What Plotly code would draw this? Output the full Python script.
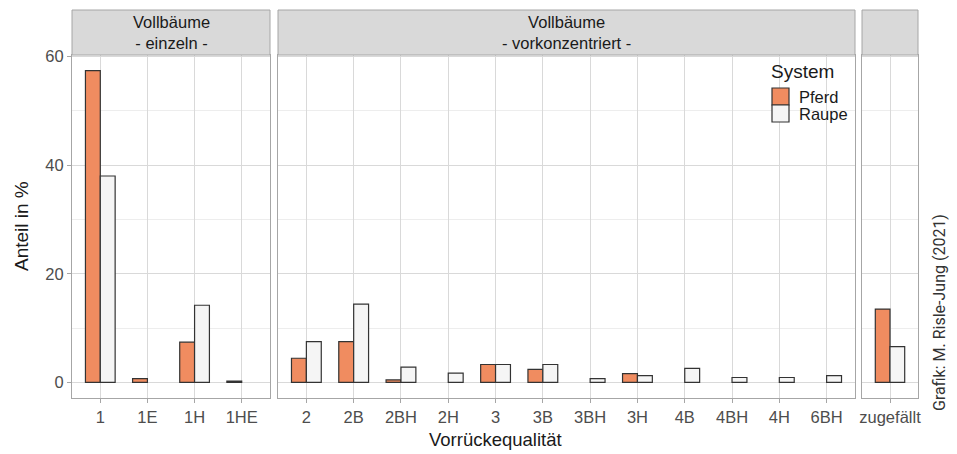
import plotly.graph_objects as go

# ---- data ----
cats_einzeln = ["1", "1E", "1H", "1HE"]
pferd_einzeln = [57.4, 0.7, 7.4, 0.25]
raupe_einzeln = [38.0, None, 14.2, None]

cats_vork = ["2", "2B", "2BH", "2H", "3", "3B", "3BH", "3H", "4B", "4BH", "4H", "6BH"]
pferd_vork = [4.45, 7.5, 0.45, None, 3.3, 2.4, None, 1.6, None, None, None, None]
raupe_vork = [7.5, 14.4, 2.8, 1.7, 3.3, 3.3, 0.7, 1.25, 2.6, 0.9, 0.9, 1.25]

cats_zuf = ["zugefällt"]
pferd_zuf = [13.5]
raupe_zuf = [6.6]

strip_labels = ["Vollbäume<br>- einzeln -", "Vollbäume<br>- vorkonzentriert -", ""]
series_names = ["Pferd", "Raupe"]
series_colors = ["#F08C60", "#F5F5F5"]
y_ticks = [0, 20, 40, 60]

# ---- layout geometry ----
W, H = 957, 454
ML, MR, MT, MB = 72, 39, 55, 56
PW = W - ML - MR
PH = H - MT - MB

def px_x(p):
    return (p - ML) / PW

def px_y(p):
    return (H - MB - p) / PH

domains = [
    [px_x(72), px_x(270)],
    [px_x(278), px_x(855)],
    [px_x(862), px_x(918)],
]

FONT = "Liberation Sans, Arial, sans-serif"
GRID = "#D9D9D9"
MINOR = "#EDEDED"
BORDER = "#A6A6A6"
OUTLINE = "#333333"
SMALL = 16.5
BIG = 19

fig = go.Figure()

panels = [
    (cats_einzeln, pferd_einzeln, raupe_einzeln),
    (cats_vork, pferd_vork, raupe_vork),
    (cats_zuf, pferd_zuf, raupe_zuf),
]

for i, (cats, pf, ra) in enumerate(panels):
    xa = "x" if i == 0 else f"x{i+1}"
    ya = "y" if i == 0 else f"y{i+1}"
    for s, vals in enumerate([pf, ra]):
        fig.add_trace(go.Bar(
            x=cats, y=vals, name=series_names[s],
            marker=dict(color=series_colors[s], line=dict(color=OUTLINE, width=1.2)),
            offsetgroup=str(s), xaxis=xa, yaxis=ya, showlegend=False,
            hovertemplate="%{x}: %{y}<extra>" + series_names[s] + "</extra>",
        ))

layout = dict(
    width=W, height=H,
    margin=dict(l=ML, r=MR, t=MT, b=MB),
    paper_bgcolor="white", plot_bgcolor="white",
    barmode="group", bargap=0.37, bargroupgap=0,
    font=dict(family=FONT, color="#4D4D4D", size=SMALL),
    showlegend=False,
)

for i, (cats, _, _) in enumerate(panels):
    n = len(cats)
    xk = "xaxis" if i == 0 else f"xaxis{i+1}"
    yk = "yaxis" if i == 0 else f"yaxis{i+1}"
    yref = "y" if i == 0 else f"y{i+1}"
    xref = "x" if i == 0 else f"x{i+1}"
    layout[xk] = dict(
        domain=domains[i], anchor=yref, type="category",
        categoryorder="array", categoryarray=cats,
        range=[-0.6, n - 0.4],
        showgrid=True, gridcolor=GRID, gridwidth=1,
        showline=True, mirror=True, linecolor=BORDER, linewidth=1,
        ticks="outside", ticklen=4, tickcolor=BORDER,
        tickfont=dict(size=SMALL, color="#4D4D4D", family=FONT),
        zeroline=False, fixedrange=True,
    )
    layout[yk] = dict(
        domain=[0, 1], anchor=xref,
        range=[-2.87, 60.27],
        tickvals=y_ticks,
        showticklabels=(i == 0),
        ticks="outside" if i == 0 else "", ticklen=4, tickcolor=BORDER,
        showgrid=True, gridcolor=GRID, gridwidth=1,
        minor=dict(dtick=10, tick0=0, showgrid=True, gridcolor=MINOR, gridwidth=1, ticks=""),
        showline=True, mirror=True, linecolor=BORDER, linewidth=1,
        zeroline=False, tickfont=dict(size=SMALL, color="#4D4D4D", family=FONT),
        fixedrange=True,
    )
    if i > 0:
        layout[yk]["matches"] = "y"

fig.update_layout(**layout)

shapes = []
annotations = []
strip_top = px_y(10)
for i, d in enumerate(domains):
    shapes.append(dict(type="rect", xref="paper", yref="paper",
                       x0=d[0], x1=d[1], y0=1, y1=strip_top,
                       fillcolor="#D9D9D9", line=dict(color=BORDER, width=1), layer="above"))
    if strip_labels[i]:
        annotations.append(dict(xref="paper", yref="paper",
                                x=(d[0] + d[1]) / 2, y=(1 + strip_top) / 2,
                                text=strip_labels[i], showarrow=False,
                                xanchor="center", yanchor="middle",
                                font=dict(size=SMALL, color="#1A1A1A", family=FONT)))

# legend (custom, ggplot style)
annotations.append(dict(xref="paper", yref="paper", x=px_x(769), y=px_y(71),
                        text="System", showarrow=False, xanchor="left", yanchor="middle",
                        font=dict(size=BIG, color="#1A1A1A", family=FONT)))
key_rows = [(88, 105), (105, 122)]
for s, (t, b) in enumerate(key_rows):
    shapes.append(dict(type="rect", xref="paper", yref="paper",
                       x0=px_x(772), x1=px_x(789), y0=px_y(b), y1=px_y(t),
                       fillcolor=series_colors[s], line=dict(color=OUTLINE, width=1.2), layer="above"))
    annotations.append(dict(xref="paper", yref="paper", x=px_x(797), y=px_y((t + b) / 2),
                            text=series_names[s], showarrow=False, xanchor="left", yanchor="middle",
                            font=dict(size=SMALL, color="#1A1A1A", family=FONT)))

# axis titles
annotations.append(dict(xref="paper", yref="paper", x=0.5, y=px_y(440),
                        text="Vorrückequalität", showarrow=False,
                        xanchor="center", yanchor="middle",
                        font=dict(size=18.5, color="#1A1A1A", family=FONT)))
annotations.append(dict(xref="paper", yref="paper", x=px_x(22), y=px_y(226),
                        text="Anteil in %", showarrow=False, textangle=-90,
                        xanchor="center", yanchor="middle",
                        font=dict(size=BIG, color="#1A1A1A", family=FONT)))
# caption
annotations.append(dict(xref="paper", yref="paper", x=px_x(939), y=px_y(313),
                        text="Grafik: M. Risle-Jung (2021)", showarrow=False, textangle=-90,
                        xanchor="center", yanchor="middle",
                        font=dict(size=16, color="#333333", family="Roboto, sans-serif")))

fig.update_layout(shapes=shapes, annotations=annotations)

fig.write_html("out.html")
